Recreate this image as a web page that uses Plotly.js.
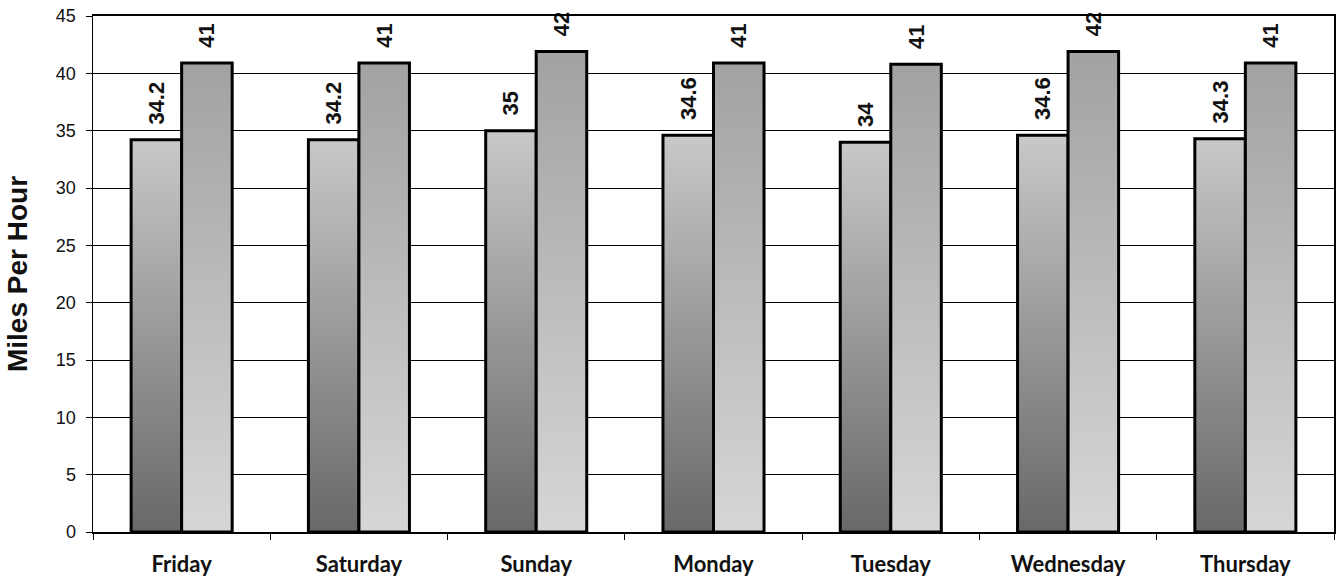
<!DOCTYPE html>
<html>
<head>
<meta charset="utf-8">
<script src="https://cdn.plot.ly/plotly-3.0.1.min.js"></script>
<style>
  html, body { margin: 0; padding: 0; background: #ffffff; }
  #chart { width: 1336px; height: 582px; }
</style>
</head>
<body>
<div id="chart"></div>
<script>
const days = ["Friday", "Saturday", "Sunday", "Monday", "Tuesday", "Wednesday", "Thursday"];
const seriesA = [34.2, 34.2, 35, 34.6, 34, 34.6, 34.3];
const seriesB = [40.9, 40.9, 41.9, 40.9, 40.8, 41.9, 40.9];
const labelsA = ["34.2", "34.2", "35", "34.6", "34", "34.6", "34.3"];
const labelsB = ["41", "41", "42", "41", "41", "42", "41"];
const yTicks = [0, 5, 10, 15, 20, 25, 30, 35, 40, 45];

const labelFont = { family: "Liberation Sans, Arial, sans-serif", size: 22, color: "#111111", weight: "bold" };

const traceA = {
  type: "bar", x: days, y: seriesA, text: labelsA,
  texttemplate: "\u00a0\u00a0%{text}",
  textposition: "outside", textangle: -90, cliponaxis: false, constraintext: "none",
  textfont: labelFont,
  marker: { color: "#9a9a9a", line: { color: "#000000", width: 3 } },
  hoverinfo: "x+y", showlegend: false
};
const traceB = {
  type: "bar", x: days, y: seriesB, text: labelsB,
  texttemplate: "\u00a0\u00a0%{text}",
  textposition: "outside", textangle: -90, cliponaxis: false, constraintext: "none",
  textfont: labelFont,
  marker: { color: "#bdbdbd", line: { color: "#000000", width: 3 } },
  hoverinfo: "x+y", showlegend: false
};

const layout = {
  width: 1336, height: 582,
  margin: { l: 93, r: 2, t: 16, b: 50 },
  paper_bgcolor: "#ffffff", plot_bgcolor: "#ffffff",
  barmode: "group", bargap: 0.43, bargroupgap: 0,
  font: { family: "Liberation Sans, Arial, sans-serif", color: "#111111" },
  xaxis: {
    type: "category",
    showline: true, linecolor: "#000000", linewidth: 2, mirror: true,
    ticks: "outside", tickson: "boundaries", ticklen: 6, tickcolor: "#000000", tickwidth: 1,
    tickfont: { family: "Lato, Liberation Sans, sans-serif", size: 22, color: "#111111", weight: "bold" },
    ticklabelstandoff: 12,
    showgrid: false, zeroline: false
  },
  yaxis: {
    range: [0, 45], tickvals: yTicks, ticktext: yTicks.map(String),
    showline: true, linecolor: "#000000", linewidth: 1.5, mirror: true,
    ticks: "outside", ticklen: 6, tickcolor: "#000000", tickwidth: 1,
    tickfont: { family: "Liberation Sans, Arial, sans-serif", size: 18, color: "#111111" },
    ticklabelstandoff: 6,
    showgrid: true, gridcolor: "#000000", gridwidth: 1,
    zeroline: false,
    title: { text: "Miles Per Hour", font: { family: "Liberation Sans, Arial, sans-serif", size: 28, color: "#111111", weight: "bold" }, standoff: 20 },
    automargin: false
  }
};

function applyGradients(gd) {
  const svg = gd.querySelector("svg.main-svg");
  if (!svg) return;
  let defs = svg.querySelector("defs");
  const ns = "http://www.w3.org/2000/svg";
  if (!defs) { defs = document.createElementNS(ns, "defs"); svg.insertBefore(defs, svg.firstChild); }
  const specs = [
    { id: "gradA", bottom: "#686868", top: "#c8c8c8" },
    { id: "gradB", bottom: "#d6d6d6", top: "#a2a2a2" }
  ];
  specs.forEach(s => {
    if (svg.querySelector("#" + s.id)) return;
    const g = document.createElementNS(ns, "linearGradient");
    g.setAttribute("id", s.id);
    g.setAttribute("x1", "0"); g.setAttribute("y1", "1");
    g.setAttribute("x2", "0"); g.setAttribute("y2", "0");
    const s1 = document.createElementNS(ns, "stop");
    s1.setAttribute("offset", "0"); s1.setAttribute("stop-color", s.bottom);
    const s2 = document.createElementNS(ns, "stop");
    s2.setAttribute("offset", "1"); s2.setAttribute("stop-color", s.top);
    g.appendChild(s1); g.appendChild(s2);
    defs.appendChild(g);
  });
  const traces = gd.querySelectorAll(".barlayer .trace.bars");
  traces.forEach((t, i) => {
    const id = i === 0 ? "gradA" : "gradB";
    t.querySelectorAll(".point path").forEach(p => { p.style.fill = "url(#" + id + ")"; });
  });
}

const gd = document.getElementById("chart");
Plotly.newPlot(gd, [traceA, traceB], layout, { displayModeBar: false, staticPlot: true }).then(() => {
  applyGradients(gd);
  gd.on && gd.on("plotly_afterplot", () => applyGradients(gd));
});
</script>
</body>
</html>
